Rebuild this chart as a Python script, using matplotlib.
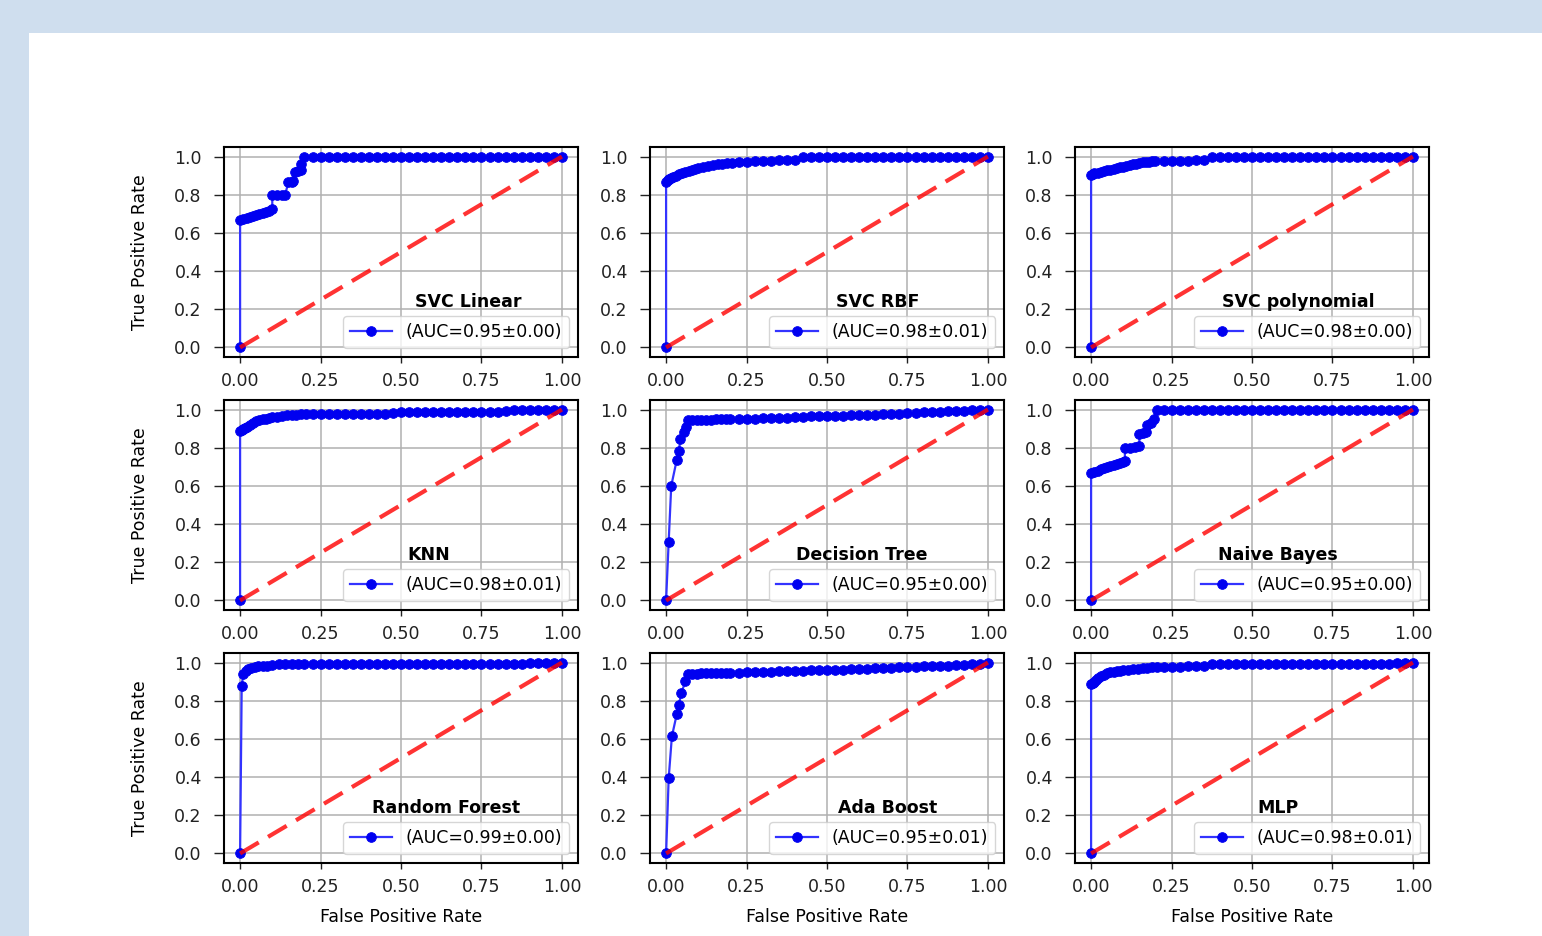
import matplotlib
matplotlib.use("Agg")
import matplotlib.pyplot as plt
from matplotlib.patches import Rectangle

# ---------------- data ----------------
model_names = ["SVC Linear", "SVC RBF", "SVC polynomial",
               "KNN", "Decision Tree", "Naive Bayes",
               "Random Forest", "Ada Boost", "MLP"]
auc_labels = ["(AUC=0.95±0.00)", "(AUC=0.98±0.01)", "(AUC=0.98±0.00)",
              "(AUC=0.98±0.01)", "(AUC=0.95±0.00)", "(AUC=0.95±0.00)",
              "(AUC=0.99±0.00)", "(AUC=0.95±0.01)", "(AUC=0.98±0.01)"]

# shared tail of false-positive-rate thresholds (32 values)
fpr_tail = [0.225, 0.25, 0.275, 0.30, 0.325, 0.35, 0.375, 0.40,
            0.425, 0.45, 0.475, 0.50, 0.525, 0.55, 0.575, 0.60,
            0.625, 0.65, 0.675, 0.70, 0.725, 0.75, 0.775, 0.80,
            0.825, 0.85, 0.875, 0.90, 0.925, 0.95, 0.975, 1.0]

svc_lin_fpr = [0.0, 0.0, 0.01, 0.02, 0.03, 0.04, 0.05, 0.06, 0.07, 0.08, 0.09, 0.10,
               0.10, 0.115, 0.13, 0.14, 0.15, 0.16, 0.165, 0.17, 0.18, 0.19, 0.19, 0.20] + fpr_tail
svc_lin_tpr = [0.0, 0.67, 0.675, 0.68, 0.685, 0.69, 0.695, 0.70, 0.705, 0.71, 0.715, 0.725,
               0.80, 0.80, 0.80, 0.80, 0.865, 0.865, 0.87, 0.92, 0.925, 0.93, 0.96, 1.0,
               1.0, 1.0, 1.0, 1.0, 1.0, 1.0, 1.0, 1.0,
               1.0, 1.0, 1.0, 1.0, 1.0, 1.0, 1.0, 1.0,
               1.0, 1.0, 1.0, 1.0, 1.0, 1.0, 1.0, 1.0,
               1.0, 1.0, 1.0, 1.0, 1.0, 1.0, 1.0, 1.0]

svc_rbf_fpr = [0.0, 0.0, 0.005, 0.01, 0.015, 0.02, 0.03, 0.04, 0.05, 0.06, 0.07,
               0.08, 0.09, 0.10, 0.115, 0.13, 0.145, 0.16, 0.175, 0.19, 0.205] + fpr_tail
svc_rbf_tpr = [0.0, 0.865, 0.875, 0.882, 0.888, 0.893, 0.90, 0.908, 0.915, 0.92, 0.925,
               0.93, 0.935, 0.94, 0.945, 0.95, 0.955, 0.96, 0.963, 0.966, 0.968,
               0.97, 0.972, 0.975, 0.977, 0.979, 0.98, 0.982, 0.984,
               1.0, 1.0, 1.0, 1.0, 1.0, 1.0, 1.0, 1.0,
               1.0, 1.0, 1.0, 1.0, 1.0, 1.0, 1.0, 1.0,
               1.0, 1.0, 1.0, 1.0, 1.0, 1.0, 1.0, 1.0]

svc_poly_fpr = [0.0, 0.0, 0.005, 0.01, 0.02, 0.03, 0.04, 0.05, 0.06, 0.07, 0.08, 0.09,
                0.10, 0.11, 0.12, 0.13, 0.14, 0.15, 0.16, 0.17, 0.18, 0.19, 0.20] + fpr_tail
svc_poly_tpr = [0.0, 0.905, 0.91, 0.912, 0.915, 0.92, 0.925, 0.928, 0.93, 0.935, 0.94, 0.943,
                0.946, 0.95, 0.955, 0.96, 0.963, 0.966, 0.97, 0.972, 0.974, 0.975, 0.976,
                0.977, 0.978, 0.978, 0.979, 0.98, 0.98,
                1.0, 1.0, 1.0, 1.0, 1.0, 1.0, 1.0, 1.0, 1.0, 1.0,
                1.0, 1.0, 1.0, 1.0, 1.0, 1.0, 1.0, 1.0, 1.0, 1.0,
                1.0, 1.0, 1.0, 1.0, 1.0, 1.0]

knn_fpr = [0.0, 0.0, 0.005, 0.01, 0.015, 0.02, 0.03, 0.04, 0.05, 0.06, 0.07,
           0.08, 0.09, 0.10, 0.115, 0.13, 0.145, 0.16, 0.175, 0.19, 0.205] + fpr_tail
knn_tpr = [0.0, 0.89, 0.895, 0.90, 0.905, 0.91, 0.92, 0.93, 0.94, 0.945, 0.95,
           0.953, 0.956, 0.96, 0.963, 0.966, 0.969, 0.971, 0.973, 0.975, 0.976,
           0.977, 0.977, 0.977, 0.978, 0.978, 0.978, 0.978, 0.979,
           0.979, 0.979, 0.98, 0.985, 0.985, 0.985, 0.985, 0.986,
           0.986, 0.986, 0.986, 0.987, 0.987, 0.987, 0.988, 0.988,
           0.99, 1.0, 1.0, 1.0, 1.0, 1.0, 1.0, 1.0]

dt_fpr = [0.0, 0.008, 0.016, 0.033, 0.04, 0.044, 0.055, 0.0625, 0.068,
          0.08, 0.095, 0.11, 0.125, 0.14, 0.155, 0.17, 0.185, 0.20] + fpr_tail
dt_tpr = [0.0, 0.307, 0.60, 0.735, 0.783, 0.844, 0.88, 0.908, 0.945,
          0.946, 0.946, 0.947, 0.947, 0.947, 0.948, 0.948, 0.948, 0.949,
          0.95, 0.952, 0.953, 0.955, 0.956, 0.957, 0.958, 0.96,
          0.962, 0.964, 0.965, 0.966, 0.967, 0.968, 0.969, 0.97,
          0.972, 0.974, 0.975, 0.976, 0.978, 0.98, 0.982, 0.985,
          0.986, 0.988, 0.99, 0.992, 0.995, 1.0, 1.0, 1.0]

nb_fpr = [0.0, 0.0, 0.01, 0.02, 0.03, 0.04, 0.05, 0.06, 0.07, 0.08, 0.09, 0.10, 0.105,
          0.105, 0.12, 0.135, 0.15, 0.15, 0.16, 0.17, 0.175, 0.185, 0.195, 0.205] + fpr_tail
nb_tpr = [0.0, 0.668, 0.675, 0.68, 0.69, 0.695, 0.70, 0.705, 0.71, 0.715, 0.72, 0.725, 0.73,
          0.80, 0.80, 0.805, 0.81, 0.87, 0.875, 0.88, 0.92, 0.93, 0.95, 1.0,
          1.0, 1.0, 1.0, 1.0, 1.0, 1.0, 1.0, 1.0,
          1.0, 1.0, 1.0, 1.0, 1.0, 1.0, 1.0, 1.0,
          1.0, 1.0, 1.0, 1.0, 1.0, 1.0, 1.0, 1.0,
          1.0, 1.0, 1.0, 1.0, 1.0, 1.0, 1.0, 1.0]

rf_fpr = [0.0, 0.005, 0.01, 0.018, 0.026, 0.035, 0.045, 0.055,
          0.07, 0.085, 0.10, 0.12, 0.14, 0.16, 0.18, 0.20] + fpr_tail
rf_tpr = [0.0, 0.879, 0.94, 0.955, 0.965, 0.972, 0.978, 0.983,
          0.983, 0.983, 0.985, 0.993, 0.993, 0.993, 0.993, 0.993,
          0.993, 0.993, 0.993, 0.993, 0.993, 0.993, 0.993, 0.993,
          0.993, 0.993, 0.993, 0.993, 0.993, 0.993, 0.993, 0.993,
          0.993, 0.993, 0.993, 0.993, 0.993, 0.993, 0.993, 0.993,
          0.993, 0.993, 0.993, 1.0, 1.0, 1.0, 1.0, 1.0]

ada_fpr = [0.0, 0.008, 0.018, 0.033, 0.04, 0.047, 0.06, 0.068, 0.08,
           0.095, 0.11, 0.125, 0.14, 0.155, 0.17, 0.185, 0.20] + fpr_tail
ada_tpr = [0.0, 0.393, 0.613, 0.728, 0.78, 0.839, 0.901, 0.94, 0.942,
           0.942, 0.943, 0.943, 0.944, 0.944, 0.945, 0.945, 0.946,
           0.947, 0.948, 0.95, 0.951, 0.953, 0.955, 0.956, 0.957,
           0.958, 0.959, 0.96, 0.961, 0.962, 0.963, 0.965, 0.966,
           0.968, 0.97, 0.971, 0.973, 0.975, 0.976, 0.978, 0.98,
           0.981, 0.982, 0.983, 0.985, 0.987, 0.99, 0.995, 1.0]

mlp_fpr = [0.0, 0.0, 0.005, 0.01, 0.015, 0.02, 0.03, 0.04, 0.05, 0.06, 0.07,
           0.08, 0.09, 0.10, 0.115, 0.13, 0.145, 0.16, 0.175, 0.19, 0.205] + fpr_tail
mlp_tpr = [0.0, 0.889, 0.895, 0.90, 0.91, 0.918, 0.928, 0.937, 0.945, 0.95, 0.953,
           0.956, 0.958, 0.96, 0.963, 0.965, 0.968, 0.97, 0.972, 0.975, 0.977,
           0.978, 0.979, 0.979, 0.98, 0.98, 0.981,
           0.99, 0.99, 0.99, 0.99, 0.99, 0.99, 0.99, 0.99,
           0.99, 0.99, 0.99, 0.99, 0.99, 0.99, 0.99, 0.99,
           0.99, 0.99, 0.99, 0.99, 0.99, 0.99, 0.99,
           1.0, 1.0, 1.0]

fprs = [svc_lin_fpr, svc_rbf_fpr, svc_poly_fpr, knn_fpr, dt_fpr, nb_fpr, rf_fpr, ada_fpr, mlp_fpr]
tprs = [svc_lin_tpr, svc_rbf_tpr, svc_poly_tpr, knn_tpr, dt_tpr, nb_tpr, rf_tpr, ada_tpr, mlp_tpr]

x_ticks = [0.0, 0.25, 0.5, 0.75, 1.0]
y_ticks = [0.0, 0.2, 0.4, 0.6, 0.8, 1.0]

# ---------------- layout ----------------
W, H = 1542, 936
fig = plt.figure(figsize=(W / 100, H / 100), dpi=100)
fig.patch.set_facecolor("#cfdeee")
fig.add_artist(Rectangle((29 / W, 0), 1 - 29 / W, (H - 33) / H,
                         transform=fig.transFigure, facecolor="white",
                         edgecolor="none", zorder=-10))

col_left = [224, 650, 1075]
row_top = [147, 400, 653]
ax_w, ax_h = 354, 210
title_x = [0.689, 0.644, 0.630, 0.579, 0.599, 0.573, 0.627, 0.672, 0.573]

FS = 12.5
for i in range(9):
    r, c = divmod(i, 3)
    left = col_left[c] / W
    bottom = 1 - (row_top[r] + ax_h) / H
    ax = fig.add_axes([left, bottom, ax_w / W, ax_h / H])
    ax.set_axisbelow(True)
    ax.grid(True, color="#b0b0b0", linewidth=1.1)
    ax.plot(fprs[i], tprs[i], color="#3333ff", linewidth=1.6,
            marker="o", markersize=7, markerfacecolor="#0000f0",
            markeredgecolor="#0000f0", markeredgewidth=0.6,
            label=auc_labels[i])
    ax.plot([0, 1], [0, 1], color="red", alpha=0.8, linewidth=3.0,
            linestyle=(0, (5.2, 2.6)))
    ax.set_xlim(-0.05, 1.05)
    ax.set_ylim(-0.05, 1.05)
    ax.set_xticks(x_ticks)
    ax.set_yticks(y_ticks)
    ax.set_xticklabels(["0.00", "0.25", "0.50", "0.75", "1.00"])
    ax.set_yticklabels(["0.0", "0.2", "0.4", "0.6", "0.8", "1.0"])
    ax.tick_params(axis="x", labelsize=FS, length=4.5, width=1.0, pad=6, colors="#222222")
    ax.tick_params(axis="y", labelsize=FS, length=7, width=1.0, pad=9, colors="#222222")
    for s in ax.spines.values():
        s.set_linewidth(1.5)
    leg = ax.legend(loc="lower right", fontsize=FS, handlelength=2.4)
    ax.text(title_x[i], 0.262, model_names[i], transform=ax.transAxes,
            ha="center", va="center", fontsize=FS, fontweight="bold")
    if c == 0:
        ax.set_ylabel("True Positive Rate", fontsize=FS, labelpad=18)
    if r == 2:
        ax.set_xlabel("False Positive Rate", fontsize=FS, labelpad=9)

fig.savefig("out.png", dpi=100, facecolor=fig.get_facecolor())
